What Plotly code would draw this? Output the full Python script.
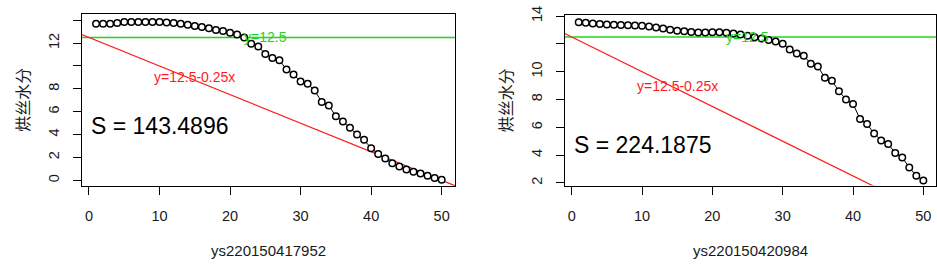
import plotly.graph_objects as go

W, H = 937, 267

# ---- data ----
x_index = list(range(1, 51))
moisture_a = [13.7, 13.7, 13.7, 13.75, 13.85, 13.85, 13.85, 13.85, 13.85, 13.85,
              13.8, 13.75, 13.7, 13.6, 13.5, 13.4, 13.3, 13.15, 13.05, 12.9,
              12.75, 12.5, 11.95, 11.7, 11.05, 10.7, 10.5, 9.7, 9.25, 8.65,
              8.45, 7.85, 6.85, 6.55, 5.6, 5.15, 4.6, 4.0, 3.55, 2.8,
              2.3, 1.9, 1.5, 1.2, 0.95, 0.75, 0.6, 0.4, 0.2, 0.05]
moisture_b = [13.55, 13.52, 13.47, 13.42, 13.4, 13.38, 13.35, 13.33, 13.32, 13.3,
              13.25, 13.18, 13.1, 13.02, 12.95, 12.9, 12.85, 12.82, 12.82, 12.83,
              12.83, 12.8, 12.75, 12.68, 12.58, 12.48, 12.38, 12.27, 12.17, 12.0,
              11.6, 11.3, 11.15, 10.57, 10.37, 9.57, 9.35, 8.6, 8.0, 7.68,
              6.6, 6.24, 5.55, 5.05, 4.8, 4.15, 3.82, 3.11, 2.52, 2.18]
names = ["ys220150417952", "ys220150420984"]
areas = ["S = 143.4896", "S = 224.1875"]
ref_intercept = 12.5
ref_slope = -0.25
hline_value = 12.5
line_label = "y=12.5-0.25x"
hline_label = "y=12.5"
y_title = "烘丝水分"
x_ticks = [0, 10, 20, 30, 40, 50]
y_ticks_a = [0, 2, 4, 6, 8, 10, 12, 14]
y_text_a = ["0", "2", "4", "6", "8", "", "12", ""]
y_ticks_b = [2, 4, 6, 8, 10, 12, 14]
y_text_b = ["2", "4", "6", "8", "10", "", "14"]

FONT = "Liberation Sans, Arial, sans-serif"
CJK = "Noto Sans CJK SC, sans-serif"
RED = "#ff1a1a"
GREEN = "#22d422"
TXT = "#1a1a1a"

panels = [
    dict(y=moisture_a, name=names[0], area=areas[0], xd=(82, 455), yd=(5, 183),
         xr=(-0.99, 51.89), yr=(-0.48, 14.56), tv=y_ticks_a, tt=y_text_a),
    dict(y=moisture_b, name=names[1], area=areas[1], xd=(565, 936), yd=(6, 182.7),
         xr=(-0.95, 51.8), yr=(1.81, 14.09), tv=y_ticks_b, tt=y_text_b),
]

fig = go.Figure()
layout = {}
annotations = []
for i, p in enumerate(panels):
    sfx = "" if i == 0 else str(i + 1)
    xa, ya = "x" + sfx, "y" + sfx
    line_x = [-5, 60]
    fig.add_trace(go.Scatter(x=line_x, y=[hline_value] * 2, mode="lines",
                             line=dict(color=GREEN, width=1.5), xaxis=xa, yaxis=ya,
                             showlegend=False, hoverinfo="skip"))
    fig.add_trace(go.Scatter(x=line_x, y=[ref_intercept + ref_slope * v for v in line_x],
                             mode="lines", line=dict(color=RED, width=1.2),
                             xaxis=xa, yaxis=ya, showlegend=False, hoverinfo="skip"))
    fig.add_trace(go.Scatter(x=x_index, y=p["y"], mode="lines+markers",
                             line=dict(color="black", width=1),
                             marker=dict(symbol="circle", size=6.5, color="white",
                                         line=dict(color="black", width=1.5)),
                             xaxis=xa, yaxis=ya, showlegend=False))
    axis_common = dict(showline=True, mirror=True, linecolor="black", linewidth=1.2,
                       ticks="outside", ticklen=8, tickcolor="black", tickwidth=1,
                       showgrid=False, zeroline=False, ticklabeloverflow="allow",
                       tickfont=dict(family=FONT, size=14.5, color=TXT))
    layout["xaxis" + sfx] = dict(axis_common, domain=[p["xd"][0] / W, p["xd"][1] / W],
                                 range=list(p["xr"]), tickvals=x_ticks,
                                 anchor=ya, ticklabelstandoff=9)
    layout["yaxis" + sfx] = dict(axis_common, domain=[1 - p["yd"][1] / H, 1 - p["yd"][0] / H],
                                 range=list(p["yr"]), tickvals=p["tv"], ticktext=p["tt"],
                                 tickangle=-90, anchor=xa, ticklabelstandoff=8)
    xmid = (p["xd"][0] + p["xd"][1]) / 2 / W
    annotations.append(dict(xref="paper", yref="paper", x=xmid, y=1 - 250 / H,
                            xanchor="center", yanchor="middle",
                            text=p["name"], showarrow=False,
                            font=dict(family=FONT, size=15, color=TXT)))
    annotations.append(dict(xref="paper", yref="paper",
                            x=(p["xd"][0] - 60) / W, y=1 - ((p["yd"][0] + p["yd"][1]) / 2) / H,
                            xanchor="center", yanchor="middle",
                            text=y_title, textangle=-90, showarrow=False,
                            font=dict(family=CJK, size=16, color=TXT)))
    annotations.append(dict(xref=xa, yref=ya, x=10, y=4.75, text=p["area"], showarrow=False,
                            xanchor="center", yanchor="middle",
                            font=dict(family=FONT, size=23, color="black")))
    annotations.append(dict(xref=xa, yref=ya, x=15, y=9, text=line_label, showarrow=False,
                            xanchor="center", yanchor="middle",
                            font=dict(family=FONT, size=14, color=RED)))
    annotations.append(dict(xref=xa, yref=ya, x=25, y=12.5, text=hline_label, showarrow=False,
                            xanchor="center", yanchor="middle",
                            font=dict(family=FONT, size=14, color=GREEN)))

fig.update_layout(width=W, height=H, margin=dict(l=0, r=0, t=0, b=0),
                  paper_bgcolor="white", plot_bgcolor="white",
                  annotations=annotations, **layout)
fig.write_html("out.html", config={"displayModeBar": False},
               post_script="document.body.style.margin='0';document.body.style.overflow='hidden';")
